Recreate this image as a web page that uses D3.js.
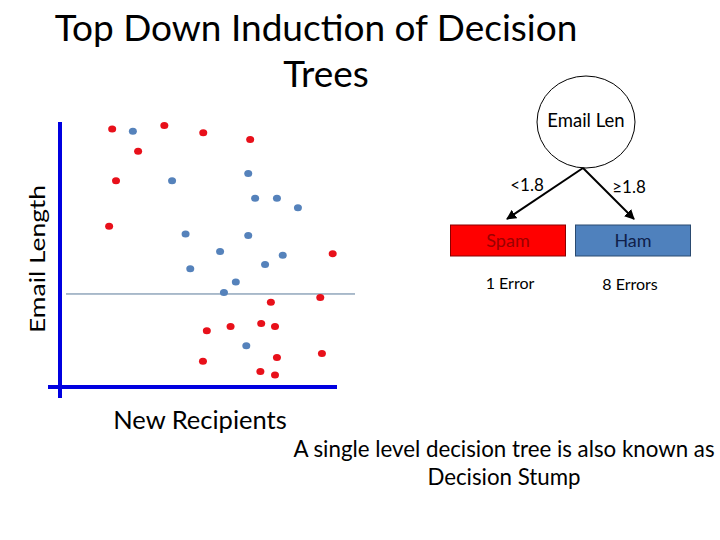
<!DOCTYPE html>
<html>
<head>
<meta charset="utf-8">
<script src="https://cdn.jsdelivr.net/npm/d3@7"></script>
<style>
  body { margin: 0; background: #fff; }
  text { font-family: Lato, "Open Sans", sans-serif; }
</style>
</head>
<body>
<div id="chart"></div>
<script>
// scatter data: x = new recipients, y = email length
const spamX = [1.89, 3.78, 5.19, 6.89, 2.83, 2.03, 1.78, 9.88, 7.64, 9.43, 5.32, 6.18, 7.29, 7.79, 5.18, 7.86, 9.49, 7.26, 7.79];
const spamY = [4.99, 5.06, 4.92, 4.79, 4.56, 3.99, 3.11, 2.58, 1.64, 1.73, 1.09, 1.17, 1.23, 1.17, 0.50, 0.57, 0.65, 0.30, 0.23];
const hamX = [2.64, 6.82, 4.06, 7.07, 7.86, 8.62, 4.55, 6.82, 5.80, 8.07, 7.43, 4.72, 6.37, 5.94, 6.75];
const hamY = [4.95, 4.13, 3.99, 3.65, 3.65, 3.47, 2.96, 2.93, 2.62, 2.55, 2.37, 2.29, 2.03, 1.83, 0.80];
const splitValue = 1.8;

// tree
const branchLabels = ["<1.8", "\u22651.8"];
const leafLabels = ["Spam", "Ham"];
const leafErrors = ["1 Error", "8 Errors"];

const width = 720, height = 540;
const svg = d3.select("#chart").append("svg").attr("width", width).attr("height", height);

const x = d3.scaleLinear().domain([0, 10]).range([60, 336]);
const y = d3.scaleLinear().domain([0, 5]).range([387, 128.6]);

// title
svg.append("text").attr("x", 316).attr("y", 41).attr("text-anchor", "middle")
  .attr("font-size", 37).text("Top Down Induction of Decision");
svg.append("text").attr("x", 326).attr("y", 87).attr("text-anchor", "middle")
  .attr("font-size", 37).text("Trees");

// split line
svg.append("line")
  .attr("x1", 66).attr("x2", 355)
  .attr("y1", y(splitValue)).attr("y2", y(splitValue))
  .attr("stroke", "#5a7a9a").attr("stroke-width", 1);

// axes
svg.append("line").attr("x1", 60).attr("x2", 60).attr("y1", 122).attr("y2", 398)
  .attr("stroke", "#0000e0").attr("stroke-width", 4);
svg.append("line").attr("x1", 48).attr("x2", 337).attr("y1", 387).attr("y2", 387)
  .attr("stroke", "#0000e0").attr("stroke-width", 4);

svg.append("text").attr("transform", "translate(45,259) rotate(-90)")
  .attr("text-anchor", "middle").attr("font-size", 21)
  .attr("textLength", 148).attr("lengthAdjust", "spacingAndGlyphs").text("Email Length");
svg.append("text").attr("x", 200).attr("y", 429).attr("text-anchor", "middle")
  .attr("font-size", 25.5).text("New Recipients");

// points
const pts = spamX.map((v, i) => ({ x: v, y: spamY[i], c: "#e8101a" }))
  .concat(hamX.map((v, i) => ({ x: v, y: hamY[i], c: "#5582bb" })));
svg.selectAll("ellipse.pt").data(pts).enter().append("ellipse")
  .attr("class", "pt")
  .attr("cx", d => x(d.x)).attr("cy", d => y(d.y))
  .attr("rx", 4).attr("ry", 3.5)
  .attr("fill", d => d.c);

// tree diagram
svg.append("defs").append("marker")
  .attr("id", "arr").attr("viewBox", "0 0 10 10").attr("refX", 9).attr("refY", 5)
  .attr("markerWidth", 5).attr("markerHeight", 5).attr("orient", "auto")
  .append("path").attr("d", "M0,0L10,5L0,10z").attr("fill", "#000");

svg.append("ellipse").attr("cx", 586).attr("cy", 122).attr("rx", 49).attr("ry", 46)
  .attr("fill", "#fff").attr("stroke", "#000").attr("stroke-width", 1);
svg.append("text").attr("x", 586).attr("y", 127).attr("text-anchor", "middle")
  .attr("font-size", 18.5).text("Email Len");

const leafX = [508, 633];
const leafFill = ["#ff0000", "#4f81bd"];
const leafStroke = ["#8a0000", "#2a4a70"];
const leafText = ["#9a0000", "#10204a"];
const tipX = [507, 634];
const labelX = [527, 629];

svg.selectAll("line.br").data(tipX).enter().append("line").attr("class", "br")
  .attr("x1", 583).attr("y1", 168).attr("x2", d => d).attr("y2", 219)
  .attr("stroke", "#000").attr("stroke-width", 2).attr("marker-end", "url(#arr)");

svg.selectAll("text.bl").data(branchLabels).enter().append("text").attr("class", "bl")
  .attr("x", (d, i) => labelX[i]).attr("y", (d, i) => 191 + i * 2)
  .attr("text-anchor", "middle").attr("font-size", 17).text(d => d);

svg.selectAll("rect.leaf").data(leafLabels).enter().append("rect").attr("class", "leaf")
  .attr("x", (d, i) => leafX[i] - 57.5).attr("y", 225).attr("width", 115).attr("height", 31)
  .attr("fill", (d, i) => leafFill[i]).attr("stroke", (d, i) => leafStroke[i]).attr("stroke-width", 1);

svg.selectAll("text.leaf").data(leafLabels).enter().append("text").attr("class", "leaf")
  .attr("x", (d, i) => leafX[i]).attr("y", 247).attr("text-anchor", "middle")
  .attr("font-size", 18).attr("fill", (d, i) => leafText[i]).text(d => d);

svg.selectAll("text.err").data(leafErrors).enter().append("text").attr("class", "err")
  .attr("x", (d, i) => [510, 630][i]).attr("y", (d, i) => 289 + i)
  .attr("text-anchor", "middle").attr("font-size", 16).text(d => d);

// note
svg.append("text").attr("x", 504).attr("y", 457).attr("text-anchor", "middle")
  .attr("font-size", 22.3).text("A single level decision tree is also known as");
svg.append("text").attr("x", 504).attr("y", 485).attr("text-anchor", "middle")
  .attr("font-size", 22.3).text("Decision Stump");
</script>
</body>
</html>
